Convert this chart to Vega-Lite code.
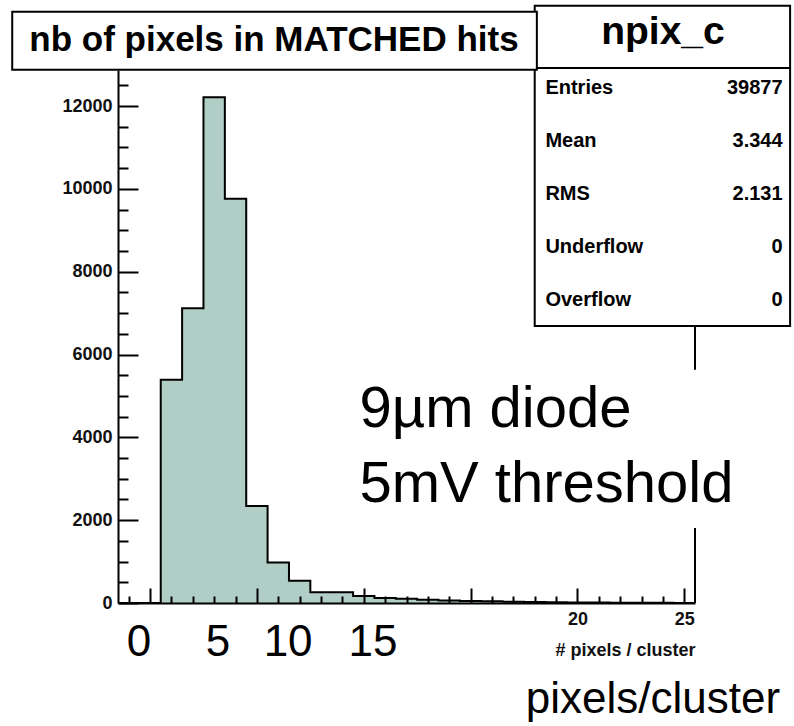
{
  "$schema": "https://vega.github.io/schema/vega-lite/v6.json",
  "width": 577,
  "height": 533,
  "autosize": {"type": "none"},
  "padding": {"left": 118, "top": 70, "right": 99, "bottom": 123},
  "background": "white",
  "config": {"view": {"stroke": null}},
  "datasets": {
    "hist": [
      {"npix": -1, "lo": -1.5, "hi": -0.5, "count": 0},
      {"npix": 0, "lo": -0.5, "hi": 0.5, "count": 0},
      {"npix": 1, "lo": 0.5, "hi": 1.5, "count": 5390},
      {"npix": 2, "lo": 1.5, "hi": 2.5, "count": 7120},
      {"npix": 3, "lo": 2.5, "hi": 3.5, "count": 12215},
      {"npix": 4, "lo": 3.5, "hi": 4.5, "count": 9760},
      {"npix": 5, "lo": 4.5, "hi": 5.5, "count": 2340},
      {"npix": 6, "lo": 5.5, "hi": 6.5, "count": 975},
      {"npix": 7, "lo": 6.5, "hi": 7.5, "count": 540},
      {"npix": 8, "lo": 7.5, "hi": 8.5, "count": 260},
      {"npix": 9, "lo": 8.5, "hi": 9.5, "count": 260},
      {"npix": 10, "lo": 9.5, "hi": 10.5, "count": 170},
      {"npix": 11, "lo": 10.5, "hi": 11.5, "count": 120},
      {"npix": 12, "lo": 11.5, "hi": 12.5, "count": 100},
      {"npix": 13, "lo": 12.5, "hi": 13.5, "count": 80},
      {"npix": 14, "lo": 13.5, "hi": 14.5, "count": 60},
      {"npix": 15, "lo": 14.5, "hi": 15.5, "count": 50},
      {"npix": 16, "lo": 15.5, "hi": 16.5, "count": 40},
      {"npix": 17, "lo": 16.5, "hi": 17.5, "count": 30},
      {"npix": 18, "lo": 17.5, "hi": 18.5, "count": 25},
      {"npix": 19, "lo": 18.5, "hi": 19.5, "count": 20},
      {"npix": 20, "lo": 19.5, "hi": 20.5, "count": 15},
      {"npix": 21, "lo": 20.5, "hi": 21.5, "count": 10},
      {"npix": 22, "lo": 21.5, "hi": 22.5, "count": 8},
      {"npix": 23, "lo": 22.5, "hi": 23.5, "count": 5},
      {"npix": 24, "lo": 23.5, "hi": 24.5, "count": 4},
      {"npix": 25, "lo": 24.5, "hi": 25.5, "count": 3},
      {"npix": 26, "lo": 25.5, "hi": 26.5, "count": 0}
    ]
  },
  "layer": [
    {
      "data": {"name": "hist"},
      "mark": {"type": "area", "interpolate": "step-after", "fill": "#b0cec6", "clip": true},
      "encoding": {
        "x": {
          "field": "lo", "type": "quantitative",
          "scale": {"domain": [-1.5, 25.5], "nice": false, "zero": false},
          "axis": {
            "zindex": 1,
            "values": [-1,0,1,2,3,4,5,6,7,8,9,10,11,12,13,14,15,16,17,18,19,20,21,22,23,24,25],
            "tickCount": 200,
            "format": "d",
            "labelExpr": "datum.value == 20 || datum.value == 25 ? datum.label : ''",
            "labelOverlap": false,
            "labelFont": "Liberation Sans, Arial, sans-serif",
            "labelFontWeight": "bold",
            "labelFontSize": 18,
            "labelColor": "#111",
            "labelPadding": 22,
            "labelFlush": false,
            "tickSize": {"condition": {"test": "datum.value % 5 === 0", "value": -15}, "value": -7},
            "tickColor": "black",
            "tickWidth": 2,
            "domainColor": "black",
            "domainWidth": 2,
            "grid": false,
            "title": "# pixels / cluster",
            "titleFont": "Liberation Sans, Arial, sans-serif",
            "titleFontWeight": "bold",
            "titleFontSize": 18,
            "titleColor": "#111",
            "titleAnchor": "end",
            "titlePadding": 5
          }
        },
        "y": {
          "field": "count", "type": "quantitative",
          "scale": {"domain": [0, 12870], "nice": false},
          "axis": {
            "zindex": 1,
            "values": [0,500,1000,1500,2000,2500,3000,3500,4000,4500,5000,5500,6000,6500,7000,7500,8000,8500,9000,9500,10000,10500,11000,11500,12000,12500],
            "tickCount": 200,
            "format": "d",
            "labelExpr": "datum.value % 2000 === 0 ? datum.label : ''",
            "labelOverlap": false,
            "labelFont": "Liberation Sans, Arial, sans-serif",
            "labelFontWeight": "bold",
            "labelFontSize": 18,
            "labelColor": "#111",
            "labelPadding": 26,
            "labelFlush": false,
            "tickSize": {"condition": {"test": "datum.value % 2000 === 0", "value": -20}, "value": -10},
            "tickColor": "black",
            "tickWidth": 2,
            "domainColor": "black",
            "domainWidth": 2,
            "grid": false,
            "title": null
          }
        }
      }
    },
    {
      "data": {"name": "hist"},
      "mark": {"type": "line", "interpolate": "step-after", "color": "black", "strokeWidth": 2, "clip": true},
      "encoding": {
        "x": {"field": "lo", "type": "quantitative"},
        "y": {"field": "count", "type": "quantitative"}
      }
    },
    {
      "data": {"values": [{}]},
      "mark": {"type": "rule", "color": "black", "strokeWidth": 2},
      "encoding": {
        "x": {"datum": 25.5},
        "y": {"datum": 0},
        "y2": {"datum": 12870}
      }
    },
    {
      "data": {"values": [{}]},
      "mark": {"type": "rect", "fill": "white", "stroke": "black", "strokeWidth": 2},
      "encoding": {
        "x": {"datum": 18.0},
        "x2": {"datum": 29.95},
        "y": {"datum": 14420},
        "y2": {"datum": 6690}
      }
    },
    {
      "data": {"values": [{}]},
      "mark": {"type": "rule", "color": "black", "strokeWidth": 2},
      "encoding": {
        "x": {"datum": 18.0},
        "x2": {"datum": 29.95},
        "y": {"datum": 12920}
      }
    },
    {
      "data": {"values": [{}]},
      "mark": {"type": "rect", "fill": "white", "stroke": "black", "strokeWidth": 2},
      "encoding": {
        "x": {"datum": -6.45},
        "x2": {"datum": 18.1},
        "y": {"datum": 14275},
        "y2": {"datum": 12874}
      }
    },
    {
      "data": {"values": [{}]},
      "mark": {"type": "text", "font": "Liberation Sans, Arial, sans-serif", "fontWeight": "bold", "fontSize": 35, "align": "center", "baseline": "middle", "color": "black"},
      "encoding": {
        "x": {"datum": 5.8},
        "y": {"datum": 13590},
        "text": {"value": "nb of pixels in MATCHED hits"}
      }
    },
    {
      "data": {"values": [{}]},
      "mark": {"type": "text", "font": "Liberation Sans, Arial, sans-serif", "fontWeight": "bold", "fontSize": 39, "align": "center", "baseline": "middle", "color": "black"},
      "encoding": {
        "x": {"datum": 24.0},
        "y": {"datum": 13780},
        "text": {"value": "npix_c"}
      }
    },
    {
      "data": {"values": [{}]},
      "mark": {"type": "text", "font": "Liberation Sans, Arial, sans-serif", "fontWeight": "bold", "fontSize": 20, "align": "left", "baseline": "middle", "lineHeight": 53, "color": "black"},
      "encoding": {
        "x": {"datum": 18.5},
        "y": {"datum": 12440},
        "text": {"value": ["Entries", "Mean", "RMS", "Underflow", "Overflow"]}
      }
    },
    {
      "data": {"values": [{}]},
      "mark": {"type": "text", "font": "Liberation Sans, Arial, sans-serif", "fontWeight": "bold", "fontSize": 20, "align": "right", "baseline": "middle", "lineHeight": 53, "color": "black"},
      "encoding": {
        "x": {"datum": 29.6},
        "y": {"datum": 12440},
        "text": {"value": ["39877", "3.344", "2.131", "0", "0"]}
      }
    },
    {
      "data": {"values": [{}]},
      "mark": {"type": "rect", "fill": "white"},
      "encoding": {
        "x": {"datum": 9.4},
        "x2": {"datum": 27.8},
        "y": {"datum": 5630},
        "y2": {"datum": 1810}
      }
    },
    {
      "data": {"values": [{}]},
      "mark": {"type": "text", "font": "Liberation Sans, Arial, sans-serif", "fontSize": 58, "align": "left", "baseline": "middle", "lineHeight": 75, "color": "black"},
      "encoding": {
        "x": {"datum": 9.8},
        "y": {"datum": 4660},
        "text": {"value": ["9µm diode", "5mV threshold"]}
      }
    },
    {
      "data": {"values": [{}]},
      "mark": {"type": "text", "font": "Liberation Sans, Arial, sans-serif", "fontSize": 44, "align": "center", "baseline": "middle", "color": "black"},
      "encoding": {"x": {"datum": -0.52}, "y": {"datum": -970}, "text": {"value": "0"}}
    },
    {
      "data": {"values": [{}]},
      "mark": {"type": "text", "font": "Liberation Sans, Arial, sans-serif", "fontSize": 44, "align": "center", "baseline": "middle", "color": "black"},
      "encoding": {"x": {"datum": 3.18}, "y": {"datum": -970}, "text": {"value": "5"}}
    },
    {
      "data": {"values": [{}]},
      "mark": {"type": "text", "font": "Liberation Sans, Arial, sans-serif", "fontSize": 44, "align": "center", "baseline": "middle", "color": "black"},
      "encoding": {"x": {"datum": 6.46}, "y": {"datum": -970}, "text": {"value": "10"}}
    },
    {
      "data": {"values": [{}]},
      "mark": {"type": "text", "font": "Liberation Sans, Arial, sans-serif", "fontSize": 44, "align": "center", "baseline": "middle", "color": "black"},
      "encoding": {"x": {"datum": 10.43}, "y": {"datum": -970}, "text": {"value": "15"}}
    },
    {
      "data": {"values": [{}]},
      "mark": {"type": "text", "font": "Liberation Sans, Arial, sans-serif", "fontSize": 44, "align": "right", "baseline": "middle", "color": "black"},
      "encoding": {"x": {"datum": 29.48}, "y": {"datum": -2340}, "text": {"value": "pixels/cluster"}}
    }
  ]
}
